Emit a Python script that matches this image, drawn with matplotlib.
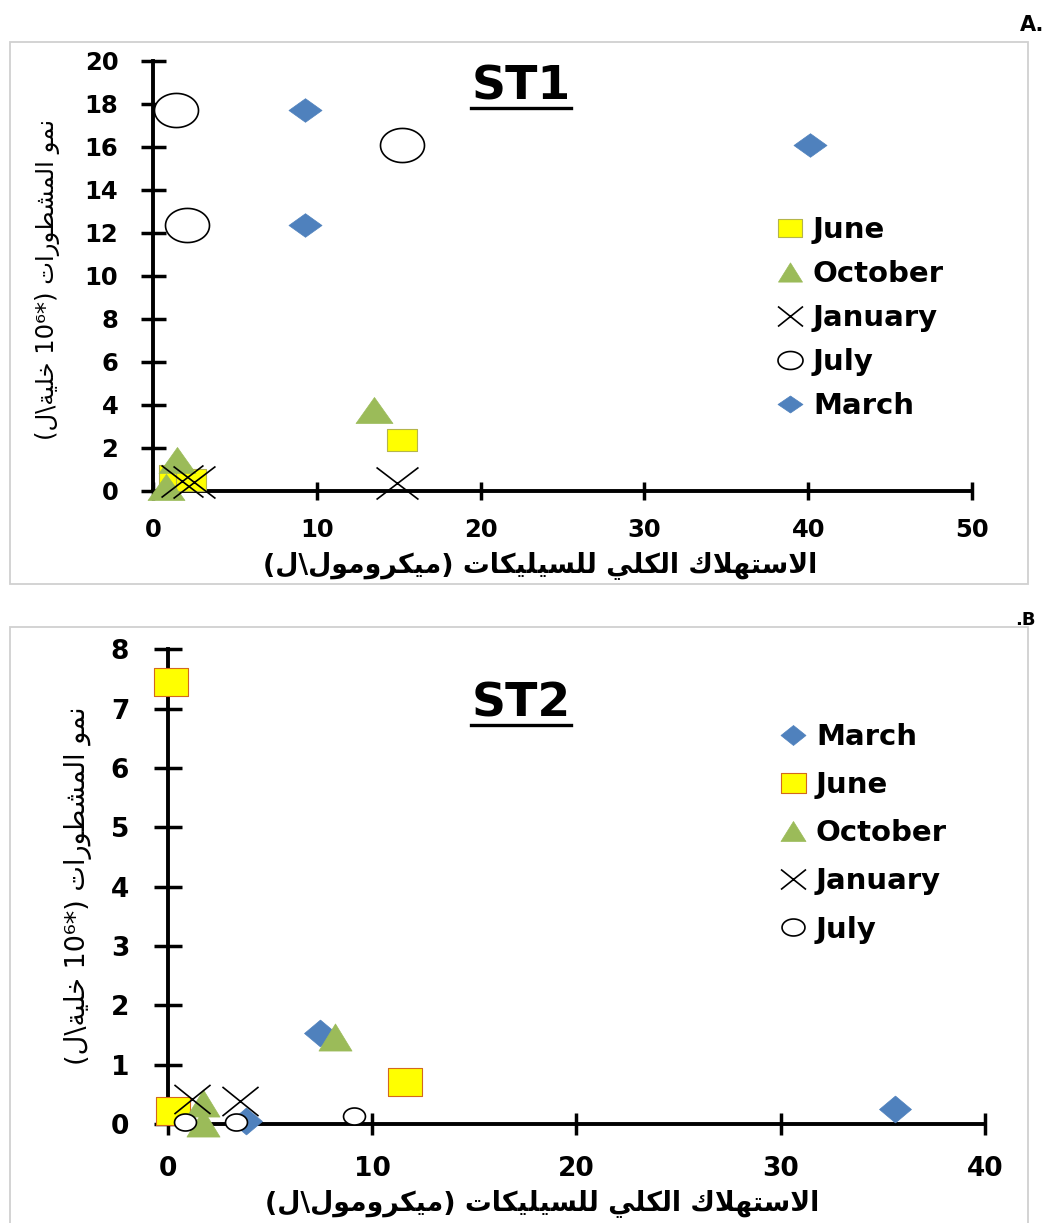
import matplotlib
matplotlib.use("Agg")
import numpy as np
import matplotlib.pyplot as plt
from matplotlib.path import Path
from matplotlib.lines import Line2D
from matplotlib.patches import Rectangle
from matplotlib.font_manager import FontProperties

# ---------------------------------------------------------------- data
# ST1: total silicate consumption (x) vs. diatom growth (y)
st1_months = ["June", "October", "January", "July", "March"]
st1_june_x = [15.2, 1.3, 2.3]
st1_june_y = [2.35, 0.7, 0.5]
st1_october_x = [13.5, 1.45, 0.8]
st1_october_y = [3.75, 1.45, 0.15]
st1_january_x = [14.9, 1.8, 2.5]
st1_january_y = [0.35, 0.45, 0.4]
st1_july_x = [1.4, 2.1, 15.2]
st1_july_y = [17.7, 12.35, 16.08]
st1_march_x = [9.3, 9.3, 40.1]
st1_march_y = [17.7, 12.35, 16.07]

# ST2
st2_months = ["March", "June", "October", "January", "July"]
st2_march_x = [35.6, 7.45, 3.85]
st2_march_y = [0.26, 1.53, 0.05]
st2_june_x = [0.16, 11.6, 0.27]
st2_june_y = [7.45, 0.71, 0.22]
st2_october_x = [8.2, 1.74, 1.74]
st2_october_y = [1.47, 0.35, 0.02]
st2_january_x = [1.17, 3.54]
st2_january_y = [0.42, 0.39]
st2_july_x = [0.85, 3.34, 9.1]
st2_july_y = [0.04, 0.04, 0.13]

st1_xticks = [0, 10, 20, 30, 40, 50]
st1_yticks = [0, 2, 4, 6, 8, 10, 12, 14, 16, 18, 20]
st2_xticks = [0, 10, 20, 30, 40]
st2_yticks = [0, 1, 2, 3, 4, 5, 6, 7, 8]

xlabel_ar = "الاستهلاك الكلي للسيليكات (ميكرومول\\ل)"
ylabel_ar_words = ["نمو", "المشطورات"]
ylabel_ar_unit = "خلية\\ل"

# ---------------------------------------------------------------- arabic shaping
# contextual forms: isolated, final, initial, medial
FORMS = {
    "ا": ("\uFE8D", "\uFE8E", None, None),
    "ت": ("\uFE95", "\uFE96", "\uFE97", "\uFE98"),
    "ة": ("\uFE93", "\uFE94", None, None),
    "خ": ("\uFEA5", "\uFEA6", "\uFEA7", "\uFEA8"),
    "ر": ("\uFEAD", "\uFEAE", None, None),
    "س": ("\uFEB1", "\uFEB2", "\uFEB3", "\uFEB4"),
    "ش": ("\uFEB5", "\uFEB6", "\uFEB7", "\uFEB8"),
    "ط": ("\uFEC1", "\uFEC2", "\uFEC3", "\uFEC4"),
    "ك": ("\uFED9", "\uFEDA", "\uFEDB", "\uFEDC"),
    "ل": ("\uFEDD", "\uFEDE", "\uFEDF", "\uFEE0"),
    "م": ("\uFEE1", "\uFEE2", "\uFEE3", "\uFEE4"),
    "ن": ("\uFEE5", "\uFEE6", "\uFEE7", "\uFEE8"),
    "ه": ("\uFEE9", "\uFEEA", "\uFEEB", "\uFEEC"),
    "و": ("\uFEED", "\uFEEE", None, None),
    "ي": ("\uFEF1", "\uFEF2", "\uFEF3", "\uFEF4"),
}


def shape(text):
    out = []
    i = 0
    n = len(text)
    while i < n:
        c = text[i]
        if c not in FORMS:
            out.append(c)
            i += 1
            continue
        prev = text[i - 1] if i > 0 else None
        joins_prev = prev in FORMS and FORMS[prev][2] is not None
        if c == "ل" and i + 1 < n and text[i + 1] == "ا":
            out.append("\uFEFC" if joins_prev else "\uFEFB")
            i += 2
            continue
        nxt = text[i + 1] if i + 1 < n else None
        joins_next = FORMS[c][2] is not None and nxt in FORMS
        iso, fin, ini, med = FORMS[c]
        if joins_prev and joins_next:
            out.append(med)
        elif joins_prev:
            out.append(fin)
        elif joins_next:
            out.append(ini)
        else:
            out.append(iso)
        i += 1
    return "".join(out)


def rtl(text):
    swap = {"(": ")", ")": "("}
    return "".join(swap.get(c, c) for c in reversed(shape(text)))


xlabel_vis = rtl(xlabel_ar)
ylabel_vis = ("(" + rtl(ylabel_ar_unit) + " 10\u2076*) "
              + rtl(ylabel_ar_words[1]) + " " + rtl(ylabel_ar_words[0]))

# ---------------------------------------------------------------- markers
def marker(kind, a):
    """Marker path a times wider than tall."""
    if kind == "D":
        v = [(-a, 0), (0, 1), (a, 0), (0, -1), (-a, 0)]
        c = [Path.MOVETO] + [Path.LINETO] * 3 + [Path.CLOSEPOLY]
    elif kind == "s":
        v = [(-a, -1), (a, -1), (a, 1), (-a, 1), (-a, -1)]
        c = [Path.MOVETO] + [Path.LINETO] * 3 + [Path.CLOSEPOLY]
    elif kind == "^":
        v = [(0, 1), (-a, -1), (a, -1), (0, 1)]
        c = [Path.MOVETO] + [Path.LINETO] * 2 + [Path.CLOSEPOLY]
    elif kind == "x":
        v = [(-a, -1), (a, 1), (-a, 1), (a, -1)]
        c = [Path.MOVETO, Path.LINETO, Path.MOVETO, Path.LINETO]
    else:  # ellipse
        t = np.linspace(0, 2 * np.pi, 61)
        v = list(zip(a * np.cos(t), np.sin(t)))
        c = [Path.MOVETO] + [Path.LINETO] * 59 + [Path.CLOSEPOLY]
    return Path(v, c)


BLUE = "#4F81BD"
GREEN = "#9BBB59"
YELLOW = "#FFFF00"

STYLE = {
    "March": dict(kind="D", mfc=BLUE, mec=BLUE, mew=0.5),
    "October": dict(kind="^", mfc=GREEN, mec=GREEN, mew=0.5),
    "January": dict(kind="x", mfc="none", mec="black", mew=1.2),
    "July": dict(kind="o", mfc="white", mec="black", mew=1.2),
}

W, H = 1048, 1223
fig = plt.figure(figsize=(W / 100, H / 100), dpi=100)


def fx(px):
    return px / W


def fy(py):
    return 1 - py / H


# panel frames
fig.add_artist(Rectangle((fx(10), fy(584)), fx(1028) - fx(10), fy(42) - fy(584),
                         transform=fig.transFigure, fill=False, ec="#D0D0D0", lw=1.3))
fig.add_artist(Rectangle((fx(10), fy(1240)), fx(1028) - fx(10), fy(627) - fy(1240),
                         transform=fig.transFigure, fill=False, ec="#D0D0D0", lw=1.3))


def setup_axes(rect, xticks, yticks, tick_fs, xlen, ylen, xpad, ypad):
    ax = fig.add_axes(rect)
    ax.set_xlim(xticks[0], xticks[-1])
    ax.set_ylim(yticks[0], yticks[-1])
    ax.set_xticks(xticks)
    ax.set_yticks(yticks)
    for s in ("top", "right"):
        ax.spines[s].set_visible(False)
    for s in ("left", "bottom"):
        ax.spines[s].set_linewidth(2.8)
    ax.tick_params(axis="x", direction="inout", length=xlen, width=2.5, pad=xpad,
                   labelsize=tick_fs)
    ax.tick_params(axis="y", direction="inout", length=ylen, width=2.5, pad=ypad,
                   labelsize=tick_fs)
    for lab in ax.get_xticklabels() + ax.get_yticklabels():
        lab.set_fontweight("bold")
    ax.patch.set_alpha(0)
    return ax


def draw_series(ax, name, xs, ys, size, aspect, z, june_edge):
    if name == "June":
        st = dict(kind="s", mfc=YELLOW, mec=june_edge, mew=0.8)
    else:
        st = STYLE[name]
    ax.plot(xs, ys, linestyle="none", marker=marker(st["kind"], aspect),
            markersize=size, markerfacecolor=st["mfc"], markeredgecolor=st["mec"],
            markeredgewidth=st["mew"], clip_on=False, zorder=z)


def legend_handle(name, size, aspect, june_edge):
    if name == "June":
        st = dict(kind="s", mfc=YELLOW, mec=june_edge, mew=0.8)
    else:
        st = STYLE[name]
    return Line2D([], [], linestyle="none", marker=marker(st["kind"], aspect),
                  markersize=size, markerfacecolor=st["mfc"],
                  markeredgecolor=st["mec"], markeredgewidth=st["mew"])


def title(text, cx, baseline):
    t = fig.text(fx(cx), fy(baseline), text, ha="center", va="baseline",
                 fontsize=34, fontweight="bold")
    fig.canvas.draw()
    bb = t.get_window_extent()
    y = fy(baseline + 8)
    fig.add_artist(Line2D([bb.x0 / W, bb.x1 / W], [y, y], transform=fig.transFigure,
                          color="black", lw=2.4))


LEG_FONT = FontProperties(weight="bold", size=21)

# ---------------------------------------------------------------- ST1
axA = setup_axes([fx(153), fy(490.7), fx(972) - fx(153), fy(60.7) - fy(490.7)],
                 st1_xticks, st1_yticks, 17.5, 13, 18, 13.5, 16)
JUNE_EDGE_A = "#B5B54A"
st1_data = {
    "June": (st1_june_x, st1_june_y, 21.6, 1.36),
    "October": (st1_october_x, st1_october_y, 26.6, 1.42),
    "January": (st1_january_x, st1_january_y, 30.2, 1.31),
    "July": (st1_july_x, st1_july_y, 31.7, 1.29),
    "March": (st1_march_x, st1_march_y, 23.8, 1.40),
}
for z, m in enumerate(st1_months):
    xs, ys, sz, a = st1_data[m]
    draw_series(axA, m, xs, ys, sz, a, 3 + z, JUNE_EDGE_A)

leg_sizes_A = {"June": (17.3, 1.33), "October": (17.3, 1.25), "January": (18.0, 1.25),
               "July": (18.0, 1.39), "March": (18.0, 1.47)}
axA.legend([legend_handle(m, *leg_sizes_A[m], JUNE_EDGE_A) for m in st1_months],
           st1_months, loc="upper left", bbox_to_anchor=(fx(776.5), fy(216)),
           bbox_transform=fig.transFigure, frameon=False, borderpad=0,
           borderaxespad=0, handlelength=0.95, handletextpad=0.3,
           labelspacing=0.55, prop=LEG_FONT)

axA.set_xlabel(xlabel_vis, fontsize=19.3, fontweight="bold", va="center")
axA.xaxis.set_label_coords((540 - 153) / 819, (490.7 - 565) / 430)
axA.set_ylabel(ylabel_vis, fontsize=17.5, va="center")
axA.yaxis.set_label_coords((48 - 153) / 819, (490.7 - 279) / 430)
title("ST1", 521, 100)
fig.text(fx(1044), fy(25), "A.", ha="right", va="center", fontsize=15,
         fontweight="bold")

# ---------------------------------------------------------------- ST2
axB = setup_axes([fx(167.7), fy(1124), fx(985) - fx(167.7), fy(649.5) - fy(1124)],
                 st2_xticks, st2_yticks, 19, 16, 19.5, 15, 18)
JUNE_EDGE_B = "#D2691E"
st2_data = {
    "March": (st2_march_x, st2_march_y, 23.0, 1.19),
    "June": (st2_june_x, st2_june_y, 23.8, 1.22),
    "October": (st2_october_x, st2_october_y, 23.8, 1.22),
    "January": (st2_january_x, st2_january_y, 26.0, 1.24),
    "July": (st2_july_x, st2_july_y, 15.8, 1.29),
}
for z, m in enumerate(st2_months):
    xs, ys, sz, a = st2_data[m]
    draw_series(axB, m, xs, ys, sz, a, 3 + z, JUNE_EDGE_B)

leg_sizes_B = {"March": (18.0, 1.25), "June": (18.0, 1.25), "October": (18.0, 1.25),
               "January": (18.0, 1.25), "July": (16.5, 1.35)}
axB.legend([legend_handle(m, *leg_sizes_B[m], JUNE_EDGE_B) for m in st2_months],
           st2_months, loc="upper left", bbox_to_anchor=(fx(779.5), fy(723)),
           bbox_transform=fig.transFigure, frameon=False, borderpad=0,
           borderaxespad=0, handlelength=0.95, handletextpad=0.3,
           labelspacing=0.69, prop=LEG_FONT)

axB.set_xlabel(xlabel_vis, fontsize=19.3, fontweight="bold", va="center")
axB.xaxis.set_label_coords((542 - 167.7) / 817.3, (1124 - 1203) / 474.5)
axB.set_ylabel(ylabel_vis, fontsize=19.5, va="center")
axB.yaxis.set_label_coords((78 - 167.7) / 817.3, (1124 - 886) / 474.5)
title("ST2", 521, 716.7)
fig.text(fx(1036), fy(620), ".B", ha="right", va="center", fontsize=13,
         fontweight="bold")

fig.savefig("out.png", dpi=100)
